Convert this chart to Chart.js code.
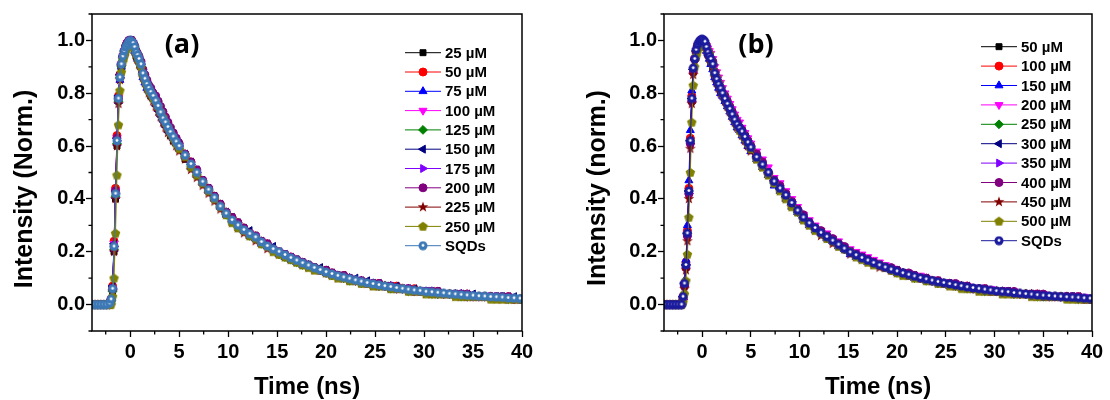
<!DOCTYPE html>
<html lang="en">
<head>
<meta charset="UTF-8" />
<title>PL decay</title>
<script src="https://cdn.jsdelivr.net/npm/chart.js"></script>
<style>
  body { margin: 0; background: #fff; width: 1110px; height: 400px; position: relative; overflow: hidden; }
  .panel { position: absolute; top: 0; width: 555px; height: 400px; }
  #pa { left: 0; }
  #pb { left: 555px; }
</style>
</head>
<body>
<div class="panel" id="pa"><canvas id="chartA" width="555" height="400"></canvas></div>
<div class="panel" id="pb"><canvas id="chartB" width="555" height="400"></canvas></div>
<script>
// time axis (ns), shared by every series
const time = [-3.9,-3.6,-3.3,-3.0,-2.7,-2.4,-2.1,
  -1.95,-1.8,-1.65,-1.5,-1.35,-1.2,-1.05,-0.9,-0.75,-0.6,-0.45,-0.3,-0.15,0,0.15,0.3,0.45,0.6,0.75,0.9,
  1.1,1.3,1.5,1.7,1.9,2.1,2.35,2.6,2.85,3.1,3.35,3.6,3.85,4.1,4.4,4.7,5.0,
  5.6,6.2,6.8,7.4,8.0,8.6,9.2,9.8,10.4,11.0,11.6,12.2,12.8,13.4,14.0,14.6,15.2,15.8,16.4,17.0,17.6,18.2,18.8,19.4,
  20.0,20.6,21.2,21.8,22.4,23.0,23.6,24.2,24.8,25.4,26.0,26.6,27.2,27.8,28.4,29.0,29.6,30.2,30.8,31.4,32.0,32.6,
  33.2,33.8,34.4,35.0,35.6,36.2,36.8,37.4,38.0,38.6,39.2,39.8];

const xTicks = [0,5,10,15,20,25,30,35,40];
const xMinor = [-2.5,2.5,7.5,12.5,17.5,22.5,27.5,32.5,37.5];
const yTicks = [0,0.2,0.4,0.6,0.8,1.0];
const yMinor = [-0.1,0.1,0.3,0.5,0.7,0.9,1.1];

// ---- panel (a) ----
const labelsA = ['25 µM','50 µM','75 µM','100 µM','125 µM','150 µM','175 µM','200 µM','225 µM','250 µM','SQDs'];
const a25 = [0,0,0,0,0,0,0,
  .01,.05,.2,.4,.6,.77,.86,.9,.93,.95,.97,.98,.99,1,.99,.98,.96,.94,.93,.92,
  .9,.87,.85,.83,.81,.79,.78,.76,.74,.72,.7,.68,.66,.64,.62,.61,.59,
  .55,.52,.49,.46,.43,.4,.37,.34,.31,.29,.28,.26,.25,.23,.22,.21,.19,.18,.17,.16,.15,.14,.14,.13,.12,.11,.11,.1,.09,.09,
  .08,.08,.07,.07,.07,.06,.06,.06,.05,.05,.05,.05,.04,.04,.04,.04,.04,.03,.03,.03,.03,.03,.03,.03,.03,.02,.02,.02];
const a50 = [0,0,0,0,0,0,0,
  .02,.07,.24,.44,.64,.79,.87,.91,.94,.96,.98,.99,.99,1,1,.99,.97,.96,.94,.93,
  .91,.88,.86,.84,.82,.81,.79,.78,.76,.73,.71,.69,.68,.66,.64,.62,.6,
  .57,.54,.5,.47,.44,.41,.38,.35,.33,.31,.29,.27,.26,.24,.23,.21,.2,.19,.18,.17,.16,.15,.14,.13,.13,.12,.11,.11,.1,.09,
  .09,.08,.08,.08,.07,.07,.07,.06,.06,.06,.05,.05,.05,.05,.04,.04,.04,.04,.04,.03,.03,.03,.03,.03,.03,.03,.02,.02];
const a75 = [0,0,0,0,0,0,0,
  .01,.06,.21,.41,.61,.77,.85,.9,.93,.95,.97,.98,.99,.99,.99,.98,.96,.95,.93,.92,
  .9,.86,.84,.82,.81,.8,.78,.76,.74,.72,.7,.68,.66,.65,.63,.61,.59,
  .56,.52,.49,.46,.43,.4,.37,.34,.32,.3,.28,.26,.25,.23,.22,.21,.19,.18,.17,.16,.15,.15,.14,.13,.12,.11,.11,.1,.1,.09,
  .09,.08,.08,.07,.07,.07,.06,.06,.06,.05,.05,.05,.05,.04,.04,.04,.04,.04,.03,.03,.03,.03,.03,.03,.03,.02,.02,.02];
const a100 = [0,0,0,0,0,0,0,
  .02,.06,.23,.43,.63,.78,.86,.91,.94,.96,.97,.99,.99,1,.99,.99,.97,.95,.94,.93,
  .91,.87,.85,.84,.82,.8,.79,.77,.75,.73,.71,.69,.67,.65,.64,.62,.6,
  .56,.53,.5,.47,.44,.4,.37,.35,.32,.3,.28,.27,.26,.24,.22,.21,.2,.19,.18,.17,.16,.15,.14,.13,.12,.12,.11,.1,.1,.09,
  .09,.08,.08,.07,.07,.07,.06,.06,.06,.05,.05,.05,.05,.04,.04,.04,.04,.04,.03,.03,.03,.03,.03,.03,.03,.03,.02,.02];
const a125 = [0,0,0,0,0,0,0,
  .01,.05,.21,.41,.61,.77,.86,.9,.93,.95,.97,.98,.99,1,.99,.98,.97,.95,.93,.92,
  .9,.87,.85,.83,.81,.8,.78,.77,.75,.72,.7,.68,.67,.65,.63,.61,.59,
  .56,.53,.49,.46,.43,.4,.37,.34,.32,.3,.28,.26,.25,.23,.22,.21,.19,.18,.17,.16,.15,.15,.14,.13,.12,.11,.11,.1,.09,.09,
  .08,.08,.08,.07,.07,.06,.06,.06,.05,.05,.05,.05,.04,.04,.04,.04,.04,.03,.03,.03,.03,.03,.03,.03,.03,.02,.02,.02];
const a150 = [0,0,0,0,0,0,0,
  .02,.07,.23,.43,.63,.79,.87,.91,.94,.96,.98,.99,1,1,1,.99,.98,.96,.95,.93,
  .92,.88,.86,.84,.83,.81,.8,.78,.76,.74,.71,.7,.68,.66,.64,.62,.61,
  .57,.54,.51,.47,.44,.41,.38,.35,.33,.31,.29,.28,.26,.24,.23,.22,.2,.19,.18,.17,.16,.15,.14,.14,.13,.12,.11,.11,.1,.1,
  .09,.09,.08,.08,.07,.07,.07,.06,.06,.06,.05,.05,.05,.05,.04,.04,.04,.04,.04,.04,.03,.03,.03,.03,.03,.03,.03,.02];
const a175 = [0,0,0,0,0,0,0,
  .02,.06,.22,.42,.62,.78,.86,.91,.94,.96,.97,.98,.99,1,.99,.99,.97,.96,.94,.93,
  .91,.87,.85,.84,.82,.8,.79,.77,.75,.73,.7,.69,.67,.65,.63,.62,.6,
  .56,.53,.5,.46,.43,.4,.37,.35,.32,.3,.28,.27,.25,.24,.22,.21,.2,.19,.18,.17,.16,.15,.14,.13,.12,.12,.11,.1,.1,.09,
  .09,.08,.08,.07,.07,.07,.06,.06,.06,.05,.05,.05,.05,.04,.04,.04,.04,.04,.03,.03,.03,.03,.03,.03,.03,.02,.02,.02];
const a200 = [0,0,0,0,0,0,0,
  .02,.06,.22,.43,.63,.78,.87,.91,.94,.96,.98,.99,1,1,1,.99,.98,.96,.95,.94,
  .92,.89,.87,.85,.83,.82,.8,.79,.77,.75,.73,.71,.69,.67,.65,.63,.61,
  .57,.54,.51,.47,.44,.41,.38,.35,.33,.31,.29,.27,.26,.24,.23,.21,.2,.19,.18,.17,.16,.15,.14,.13,.13,.12,.11,.11,.1,.09,
  .09,.08,.08,.08,.07,.07,.06,.06,.06,.05,.05,.05,.05,.05,.04,.04,.04,.04,.04,.03,.03,.03,.03,.03,.03,.03,.02,.02];
const a225 = [0,0,0,0,0,0,0,
  .01,.05,.2,.4,.6,.76,.85,.9,.93,.95,.96,.98,.99,.99,.99,.98,.96,.94,.93,.91,
  .89,.86,.84,.82,.8,.79,.77,.75,.73,.71,.69,.67,.65,.64,.62,.6,.58,
  .55,.51,.48,.45,.42,.39,.36,.34,.31,.29,.27,.26,.24,.23,.21,.2,.19,.18,.17,.16,.15,.14,.13,.13,.12,.11,.1,.1,.09,.09,
  .08,.08,.07,.07,.07,.06,.06,.06,.05,.05,.05,.04,.04,.04,.04,.04,.03,.03,.03,.03,.03,.03,.03,.02,.02,.02,.02,.02];
const a250 = [0,0,0,0,0,0,0,
  0,.03,.1,.27,.49,.68,.81,.88,.92,.94,.96,.97,.98,.99,.98,.98,.97,.95,.94,.92,
  .9,.87,.85,.83,.81,.8,.78,.77,.75,.73,.71,.69,.67,.65,.63,.61,.59,
  .56,.52,.49,.46,.43,.4,.37,.34,.31,.29,.28,.26,.25,.23,.22,.2,.19,.18,.17,.16,.15,.14,.13,.13,.12,.11,.1,.1,.09,.09,
  .08,.08,.07,.07,.07,.06,.06,.06,.05,.05,.05,.04,.04,.04,.04,.04,.03,.03,.03,.03,.03,.03,.02,.02,.02,.02,.02,.02];
const aSQD = [0,0,0,0,0,0,0.005,
  0.02,0.06,0.22,0.42,0.62,0.78,0.86,0.91,0.94,0.96,0.975,0.985,0.995,1.0,0.995,0.99,0.975,0.955,0.945,0.93,
  0.91,0.875,0.855,0.835,0.82,0.805,0.79,0.772,0.752,0.728,0.705,0.69,0.672,0.654,0.636,0.617,0.60,
  0.565,0.532,0.50,0.465,0.435,0.405,0.372,0.345,0.32,0.30,0.283,0.268,0.255,0.237,0.222,0.21,0.20,0.188,0.177,0.167,
  0.157,0.148,0.139,0.131,0.123,0.116,0.109,0.103,0.098,0.092,0.087,0.082,0.078,0.074,0.070,0.067,0.063,0.060,0.057,0.054,
  0.052,0.049,0.047,0.045,0.043,0.041,0.039,0.037,0.035,0.034,0.032,0.031,0.029,0.028,0.027,0.025,0.024,0.023];

// ---- panel (b) ----
const labelsB = ['50 µM','100 µM','150 µM','200 µM','250 µM','300 µM','350 µM','400 µM','450 µM','500 µM','SQDs'];
const b50 = [0,0,0,0,0,0,0,
  .02,.07,.14,.26,.42,.61,.77,.88,.93,.96,.98,.99,1,1,.99,.99,.97,.95,.94,.92,
  .9,.87,.85,.83,.81,.8,.78,.76,.74,.72,.7,.68,.67,.65,.63,.61,.59,
  .55,.52,.49,.46,.44,.41,.38,.35,.33,.31,.29,.27,.26,.24,.23,.21,.2,.19,.18,.17,.16,.15,.14,.13,.12,.12,.11,.11,.1,.1,
  .09,.09,.08,.08,.07,.07,.07,.06,.06,.06,.05,.05,.05,.05,.04,.04,.04,.04,.04,.03,.03,.03,.03,.03,.03,.03,.02,.02];
const b100 = [0,0,0,0,0,0,0,
  .03,.08,.16,.28,.44,.63,.79,.89,.93,.96,.98,.99,1,1,1,.99,.97,.96,.94,.93,
  .91,.88,.86,.84,.82,.8,.78,.76,.74,.72,.7,.68,.67,.66,.64,.62,.6,
  .56,.53,.5,.47,.44,.42,.39,.36,.33,.31,.29,.27,.26,.24,.23,.21,.2,.19,.18,.17,.16,.15,.14,.13,.13,.12,.11,.11,.1,.1,
  .09,.09,.08,.08,.07,.07,.07,.06,.06,.06,.05,.05,.05,.05,.04,.04,.04,.04,.04,.03,.03,.03,.03,.03,.03,.03,.02,.02];
const b150 = [0,0,0,0,0,0,0,
  .03,.09,.17,.3,.47,.66,.81,.9,.94,.96,.98,.99,1,1,.99,.98,.96,.95,.93,.91,
  .89,.86,.84,.82,.8,.79,.77,.75,.73,.71,.69,.67,.66,.64,.62,.6,.58,
  .55,.52,.49,.45,.43,.4,.37,.35,.32,.3,.28,.27,.25,.24,.22,.21,.19,.18,.17,.16,.16,.15,.14,.13,.12,.12,.11,.1,.1,.09,
  .09,.08,.08,.07,.07,.07,.06,.06,.06,.05,.05,.05,.05,.04,.04,.04,.04,.04,.03,.03,.03,.03,.03,.03,.03,.02,.02,.02];
const b200 = [0,0,0,0,0,0,0,
  .02,.07,.14,.25,.41,.6,.76,.88,.93,.96,.98,.99,1,1,1,.99,.98,.97,.96,.95,
  .93,.9,.88,.86,.84,.82,.8,.78,.76,.74,.72,.7,.69,.67,.65,.63,.61,
  .58,.55,.52,.48,.46,.43,.4,.37,.34,.32,.3,.28,.27,.25,.24,.22,.21,.2,.19,.18,.17,.16,.15,.14,.13,.12,.12,.11,.11,.1,
  .09,.09,.08,.08,.08,.07,.07,.06,.06,.06,.06,.05,.05,.05,.05,.04,.04,.04,.04,.04,.03,.03,.03,.03,.03,.03,.03,.02];
const b250 = [0,0,0,0,0,0,0,
  .02,.07,.15,.27,.43,.62,.78,.89,.93,.96,.98,.99,1,1,.99,.99,.97,.96,.94,.93,
  .91,.87,.85,.83,.82,.8,.78,.76,.74,.72,.7,.68,.67,.65,.63,.61,.59,
  .56,.53,.5,.46,.44,.41,.38,.35,.33,.31,.29,.27,.25,.24,.23,.21,.2,.19,.18,.17,.16,.15,.14,.13,.12,.12,.11,.1,.1,.09,
  .09,.08,.08,.08,.07,.07,.06,.06,.06,.05,.05,.05,.05,.05,.04,.04,.04,.04,.03,.03,.03,.03,.03,.03,.03,.02,.02,.02];
const b300 = [0,0,0,0,0,0,0,
  .03,.08,.15,.27,.43,.62,.78,.89,.93,.96,.98,.99,1,1,1,.99,.97,.96,.94,.93,
  .91,.88,.85,.83,.82,.8,.78,.76,.74,.72,.7,.68,.67,.65,.63,.61,.6,
  .56,.53,.5,.47,.44,.41,.38,.36,.33,.31,.29,.27,.26,.24,.23,.21,.2,.19,.18,.17,.16,.15,.14,.13,.13,.12,.11,.11,.1,.1,
  .09,.09,.08,.08,.07,.07,.07,.06,.06,.06,.05,.05,.05,.05,.04,.04,.04,.04,.04,.03,.03,.03,.03,.03,.03,.03,.02,.02];
const b350 = [0,0,0,0,0,0,0,
  .02,.07,.15,.27,.42,.61,.77,.89,.93,.96,.98,.99,1,1,.99,.99,.97,.96,.94,.93,
  .91,.87,.85,.83,.82,.8,.78,.76,.74,.72,.7,.69,.67,.65,.64,.62,.6,
  .56,.53,.5,.47,.44,.41,.39,.36,.33,.31,.29,.27,.26,.24,.23,.22,.2,.19,.18,.17,.16,.15,.14,.13,.13,.12,.11,.11,.1,.1,
  .09,.09,.08,.08,.07,.07,.07,.06,.06,.06,.05,.05,.05,.05,.04,.04,.04,.04,.04,.03,.03,.03,.03,.03,.03,.03,.02,.02];
const b400 = [0,0,0,0,0,0,0,
  .02,.07,.14,.26,.42,.61,.77,.88,.93,.96,.98,.99,1,1,1,.99,.98,.96,.95,.93,
  .92,.88,.86,.84,.82,.8,.79,.77,.75,.73,.71,.69,.67,.66,.64,.62,.6,
  .57,.54,.5,.47,.45,.42,.39,.36,.34,.31,.29,.28,.26,.25,.23,.22,.2,.19,.18,.17,.16,.15,.14,.14,.13,.12,.12,.11,.1,.1,
  .09,.09,.08,.08,.08,.07,.07,.06,.06,.06,.05,.05,.05,.05,.05,.04,.04,.04,.04,.04,.03,.03,.03,.03,.03,.03,.02,.02];
const b450 = [0,0,0,0,0,0,0,
  .02,.06,.13,.24,.4,.59,.76,.87,.92,.95,.97,.98,.99,.99,.99,.98,.96,.95,.93,.92,
  .9,.86,.84,.82,.8,.79,.77,.75,.73,.71,.69,.67,.66,.64,.62,.6,.58,
  .55,.52,.49,.46,.43,.4,.37,.35,.32,.3,.28,.26,.25,.23,.22,.21,.19,.18,.17,.16,.15,.14,.14,.13,.12,.11,.11,.1,.1,.09,
  .09,.08,.08,.07,.07,.07,.06,.06,.05,.05,.05,.05,.04,.04,.04,.04,.04,.03,.03,.03,.03,.03,.03,.03,.02,.02,.02,.02];
const b500 = [0,0,0,0,0,0,0,
  .01,.04,.09,.19,.33,.5,.69,.83,.9,.94,.96,.98,.99,.99,.99,.98,.97,.96,.95,.93,
  .91,.88,.86,.84,.82,.8,.78,.76,.74,.72,.7,.68,.66,.65,.63,.61,.59,
  .55,.52,.49,.46,.43,.4,.37,.35,.32,.3,.28,.27,.25,.24,.22,.21,.2,.18,.17,.16,.15,.15,.14,.13,.12,.11,.11,.1,.1,.09,
  .09,.08,.08,.07,.07,.06,.06,.06,.05,.05,.05,.05,.04,.04,.04,.04,.04,.03,.03,.03,.03,.03,.03,.02,.02,.02,.02,.02];
const bSQD = [0,0,0,0,0,0,0,
  0.03,0.08,0.15,0.27,0.43,0.62,0.78,0.895,0.93,0.965,0.985,0.995,1.0,1.005,1.0,0.995,0.975,0.955,0.94,0.93,
  0.91,0.876,0.853,0.834,0.818,0.80,0.779,0.76,0.741,0.72,0.70,0.682,0.668,0.655,0.635,0.614,0.595,
  0.558,0.53,0.50,0.466,0.44,0.414,0.385,0.356,0.33,0.308,0.29,0.272,0.257,0.242,0.227,0.212,0.198,0.187,0.177,0.167,
  0.158,0.149,0.141,0.133,0.126,0.119,0.113,0.107,0.101,0.096,0.091,0.086,0.082,0.078,0.074,0.070,0.066,0.063,0.060,0.057,
  0.054,0.051,0.049,0.047,0.044,0.042,0.040,0.038,0.036,0.034,0.033,0.031,0.030,0.028,0.027,0.026,0.024,0.023];

// ---- marker images ----
function shape(size, draw) {
  const c = document.createElement('canvas');
  c.width = c.height = size;
  draw(c.getContext('2d'), size / 2);
  return c;
}
function starImg(color) {
  return shape(12, (g, c) => {
    g.fillStyle = color;
    g.beginPath();
    for (let k = 0; k < 10; k++) {
      const r = k % 2 ? 2.3 : 5.6;
      const a = -Math.PI / 2 + k * Math.PI / 5;
      g.lineTo(c + r * Math.cos(a), c + r * Math.sin(a));
    }
    g.closePath();
    g.fill();
  });
}
function pentImg(color) {
  return shape(11, (g, c) => {
    g.fillStyle = color;
    g.beginPath();
    for (let k = 0; k < 5; k++) {
      const a = -Math.PI / 2 + k * 2 * Math.PI / 5;
      g.lineTo(c + 5 * Math.cos(a), c + 0.3 + 5 * Math.sin(a));
    }
    g.closePath();
    g.fill();
  });
}
function sphereImg(color) {
  return shape(10, (g, c) => {
    g.fillStyle = color;
    g.beginPath(); g.arc(c, c, 4.5, 0, Math.PI * 2); g.fill();
    g.fillStyle = '#fff';
    g.beginPath(); g.arc(c, c - 0.4, 1.4, 0, Math.PI * 2); g.fill();
  });
}

const colors = ['#000000','#ff0000','#0000ff','#ff00ff','#008000','#000080','#8000ff','#800080','#800000','#808000'];
const markers = [
  {s: 'rect', r: 0, rad: 4.2},
  {s: 'circle', r: 0, rad: 4},
  {s: 'triangle', r: 0, rad: 4.6},
  {s: 'triangle', r: 180, rad: 4.6},
  {s: 'rectRot', r: 0, rad: 4.4},
  {s: 'triangle', r: -90, rad: 4.6},
  {s: 'triangle', r: 90, rad: 4.6},
  {s: 'circle', r: 0, rad: 4},
  {s: starImg('#800000'), r: 0, rad: 4},
  {s: pentImg('#808000'), r: 0, rad: 4}
];

function makeSets(series, labels, sqdColor) {
  const cols = colors.concat([sqdColor]);
  const mks = markers.concat([{s: sphereImg(sqdColor), r: 0, rad: 4}]);
  return series.map((ys, i) => ({
    label: labels[i],
    data: ys.map((v, k) => ({x: time[k], y: v})),
    showLine: true,
    borderColor: cols[i],
    backgroundColor: cols[i],
    pointBackgroundColor: cols[i],
    pointBorderColor: cols[i],
    pointStyle: mks[i].s,
    pointRotation: mks[i].r,
    pointRadius: mks[i].rad,
    pointBorderWidth: 1,
    borderWidth: 1,
    tension: 0,
    order: series.length - i
  }));
}

const FONT = '"Liberation Sans", Arial, sans-serif';

const frame = {
  id: 'frame',
  afterDraw(chart, args, o) {
    const {ctx, chartArea: a, scales: {x, y}} = chart;
    ctx.save();
    ctx.strokeStyle = '#000';
    ctx.lineWidth = 1.5;
    ctx.strokeRect(a.left, a.top, a.right - a.left, a.bottom - a.top);
    // minor ticks
    ctx.lineWidth = 1.3;
    ctx.beginPath();
    xMinor.forEach(v => {
      const px = x.getPixelForValue(v);
      ctx.moveTo(px, a.bottom); ctx.lineTo(px, a.bottom + 3.5);
    });
    yMinor.forEach(v => {
      const py = y.getPixelForValue(v);
      ctx.moveTo(a.left, py); ctx.lineTo(a.left - 3.5, py);
    });
    ctx.stroke();

    // axis titles
    ctx.fillStyle = '#000';
    ctx.textAlign = 'center';
    ctx.textBaseline = 'middle';
    ctx.font = 'bold 25px ' + FONT;
    ctx.save();
    ctx.translate(o.yTitleX, o.yTitleY);
    ctx.rotate(-Math.PI / 2);
    ctx.fillText(o.yTitle, 0, 0);
    ctx.restore();
    ctx.font = 'bold 24px ' + FONT;
    ctx.fillText('Time (ns)', (a.left + a.right) / 2, 387);

    // panel tag
    ctx.font = 'bold 27px "Open Sans", ' + FONT;
    ctx.fillText(o.tag, o.tagX, o.tagY);

    // legend
    ctx.font = 'bold 15px ' + FONT;
    ctx.textAlign = 'left';
    chart.data.datasets.forEach((ds, i) => {
      const yy = o.legY + i * o.legStep;
      ctx.strokeStyle = ds.borderColor;
      ctx.lineWidth = 1;
      ctx.beginPath();
      ctx.moveTo(o.legX, yy); ctx.lineTo(o.legX + 36, yy);
      ctx.stroke();
      ctx.fillStyle = ds.pointBackgroundColor;
      Chart.helpers.drawPoint(ctx, {pointStyle: ds.pointStyle, rotation: ds.pointRotation, radius: ds.pointRadius, borderWidth: 1}, o.legX + 18, yy);
      ctx.fillStyle = '#000';
      ctx.fillText(ds.label, o.legX + 40, yy + 1);
    });
    ctx.restore();
  }
};

function makeChart(id, sets, p) {
  return new Chart(document.getElementById(id), {
    type: 'scatter',
    data: {datasets: sets},
    plugins: [frame],
    options: {
      responsive: false,
      animation: false,
      layout: {padding: {left: 0, top: 14, right: p.right, bottom: 0}},
      plugins: {legend: {display: false}, tooltip: {enabled: false}, frame: p},
      scales: {
        x: {
          type: 'linear', min: -3.9, max: 40,
          afterBuildTicks: s => { s.ticks = xTicks.map(v => ({value: v})); },
          afterFit: s => { s.height = 69; },
          border: {display: false},
          grid: {drawOnChartArea: false, drawTicks: true, tickLength: 6, tickWidth: 1.3, tickColor: '#000'},
          ticks: {color: '#000', padding: 3, maxRotation: 0, autoSkip: false,
                  font: {family: FONT, size: 20, weight: 'bold'}}
        },
        y: {
          type: 'linear', min: -0.1, max: 1.1,
          afterBuildTicks: s => { s.ticks = yTicks.map(v => ({value: v})); },
          afterFit: s => { s.width = p.yw; },
          border: {display: false},
          grid: {drawOnChartArea: false, drawTicks: true, tickLength: 6, tickWidth: 1.3, tickColor: '#000'},
          ticks: {color: '#000', padding: 1, autoSkip: false,
                  font: {family: FONT, size: 20, weight: 'bold'},
                  callback: v => v.toFixed(1)}
        }
      }
    }
  });
}

makeChart('chartA',
  makeSets([a25, a50, a75, a100, a125, a150, a175, a200, a225, a250, aSQD], labelsA, '#3d78b6'),
  {yw: 92, right: 33, yTitle: 'Intensity (Norm.)', yTitleX: 25, yTitleY: 189,
   tag: '(a)', tagX: 182, tagY: 45, legX: 405, legY: 52.7, legStep: 19.3});

makeChart('chartB',
  makeSets([b50, b100, b150, b200, b250, b300, b350, b400, b450, b500, bSQD], labelsB, '#1b1b9e'),
  {yw: 109, right: 18, yTitle: 'Intensity (norm.)', yTitleX: 43, yTitleY: 188,
   tag: '(b)', tagX: 201, tagY: 45, legX: 426, legY: 46.7, legStep: 19.4});
</script>
</body>
</html>
